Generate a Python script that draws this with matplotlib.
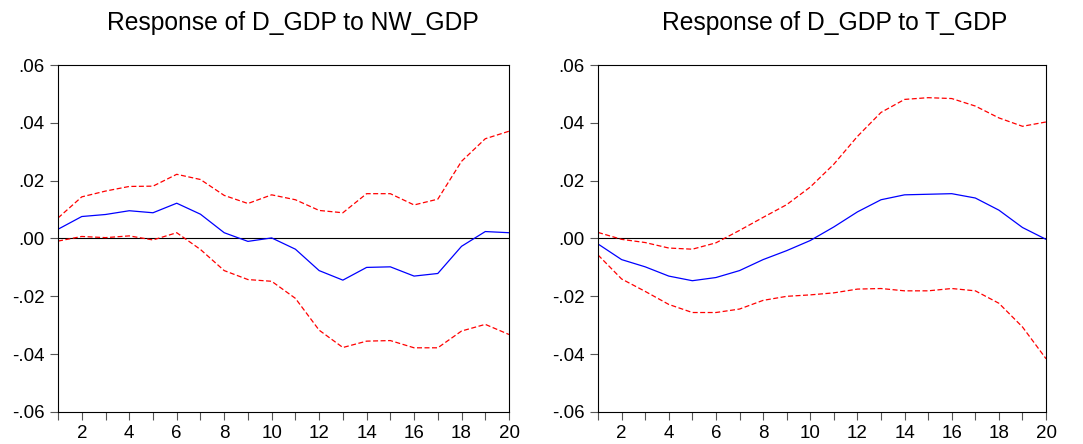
import numpy as np
import matplotlib.pyplot as plt
from matplotlib.ticker import FuncFormatter, MultipleLocator

plt.rcParams['font.family'] = ['Liberation Sans', 'DejaVu Sans']

periods = np.arange(1, 21)

# Response of D_GDP to NW_GDP
nw_resp = [0.0032, 0.0076, 0.0083, 0.0096, 0.0089, 0.0122, 0.0084, 0.0020, -0.0010, 0.0002,
           -0.0037, -0.0111, -0.0144, -0.0100, -0.0098, -0.0130, -0.0121, -0.0027, 0.0024, 0.0020]
nw_upper = [0.0071, 0.0144, 0.0164, 0.0180, 0.0181, 0.0222, 0.0204, 0.0149, 0.0121, 0.0151,
            0.0134, 0.0097, 0.0089, 0.0155, 0.0155, 0.0116, 0.0136, 0.0267, 0.0345, 0.0371]
nw_lower = [-0.0009, 0.0007, 0.0003, 0.0009, -0.0005, 0.0020, -0.0038, -0.0111, -0.0142, -0.0148,
            -0.0207, -0.0317, -0.0377, -0.0355, -0.0353, -0.0378, -0.0378, -0.0320, -0.0297, -0.0332]

# Response of D_GDP to T_GDP
t_resp = [-0.0019, -0.0073, -0.0098, -0.0130, -0.0146, -0.0135, -0.0111, -0.0073, -0.0042, -0.0007,
          0.0040, 0.0092, 0.0134, 0.0151, 0.0153, 0.0155, 0.0140, 0.0098, 0.0038, -0.0003]
t_upper = [0.0021, -0.0003, -0.0014, -0.0033, -0.0037, -0.0015, 0.0028, 0.0073, 0.0117, 0.0178,
           0.0257, 0.0353, 0.0436, 0.0481, 0.0487, 0.0484, 0.0458, 0.0417, 0.0388, 0.0403]
t_lower = [-0.0057, -0.0140, -0.0183, -0.0228, -0.0256, -0.0256, -0.0244, -0.0214, -0.0200, -0.0195,
           -0.0188, -0.0175, -0.0173, -0.0181, -0.0181, -0.0173, -0.0181, -0.0224, -0.0306, -0.0416]

titles = ['Response of D_GDP to NW_GDP', 'Response of D_GDP to T_GDP']
panels = [(nw_resp, nw_upper, nw_lower), (t_resp, t_upper, t_lower)]


def fmt(v, pos):
    s = '%.2f' % v
    if s.startswith('-0'):
        s = '-' + s[2:]
    elif s.startswith('0'):
        s = s[1:]
    return s


fig = plt.figure(figsize=(10.83, 4.44), dpi=100)
boxes = [[0.0536, 0.0721, 0.4164, 0.7815], [0.5522, 0.0721, 0.4137, 0.7815]]
title_x = [0.520, 0.527]  # titles sit a bit right of centre in the original

for box, title, tx, (resp, up, lo) in zip(boxes, titles, title_x, panels):
    ax = fig.add_axes(box)
    ax.axhline(0, color='black', lw=0.8)
    ax.plot(periods, resp, color='blue', lw=0.9)
    ax.plot(periods, up, color='red', lw=0.9, ls=(0, (4, 2)))
    ax.plot(periods, lo, color='red', lw=0.9, ls=(0, (4, 2)))
    ax.set_xlim(1, 20)
    ax.set_ylim(-0.06, 0.06)
    ax.xaxis.set_major_locator(MultipleLocator(2))
    ax.xaxis.set_minor_locator(MultipleLocator(1))
    ax.yaxis.set_major_locator(MultipleLocator(0.02))
    ax.yaxis.set_major_formatter(FuncFormatter(fmt))
    ax.tick_params(axis='both', which='both', direction='out', length=5.5, width=0.8,
                   color='#555555', labelsize=13.5, pad=4)
    for sp in ax.spines.values():
        sp.set_linewidth(0.8)
    ax.set_title(title, fontsize=17.7, pad=25, x=tx)

fig.savefig('out.png', dpi=100)
